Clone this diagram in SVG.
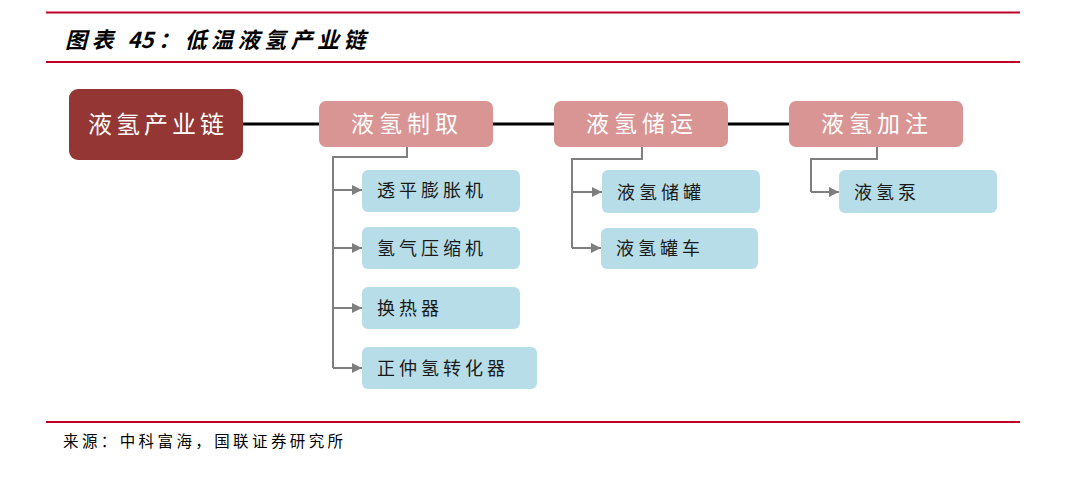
<svg xmlns="http://www.w3.org/2000/svg" width="1080" height="485" viewBox="0 0 1080 485">
<defs>
<marker id="arr" viewBox="0 0 10 10" refX="10" refY="5" markerWidth="5" markerHeight="5" markerUnits="strokeWidth" orient="auto">
<path d="M0,0 L10,5 L0,10 z" fill="#7f7f7f"/>
</marker>
<style>
.rule{stroke:#c00026;stroke-width:2;}
.main{fill:#943634;}
.l1{fill:#d99594;}
.l2{fill:#b7dde8;}
.cjk{font-family:"Noto Sans CJK SC","Noto Sans CJK JP",sans-serif;}
.tmain{font-size:24px;fill:#ffffff;letter-spacing:4px;}
.tl1{font-size:23px;fill:#ffffff;letter-spacing:5px;}
.tl2{font-size:18px;fill:#1a1a1a;letter-spacing:4px;}
.conn{fill:none;stroke:#7f7f7f;stroke-width:2;}
</style>
</defs>
<rect width="1080" height="485" fill="#ffffff"/>
<line class="rule" x1="46" y1="12.5" x2="1020" y2="12.5"/>
<line class="rule" x1="46" y1="62" x2="1020" y2="62"/>
<line class="rule" x1="46" y1="422" x2="1020" y2="422"/>
<text class="cjk" x="65" y="48" font-size="22" font-weight="bold" font-style="italic" fill="#000" letter-spacing="4.5">图表 <tspan letter-spacing="0">4</tspan>5：低温液氢产业链</text>
<text class="cjk" x="63" y="447" font-size="15.5" fill="#000" letter-spacing="3.4">来源：中科富海，国联证券研究所</text>

<g id="connectors">
<line x1="243" y1="124" x2="789" y2="124" stroke="#000" stroke-width="3"/>
<path class="conn" d="M407,147 V157 H333 V368"/>
<line class="conn" x1="333" y1="190" x2="362" y2="190" marker-end="url(#arr)"/>
<line class="conn" x1="333" y1="248" x2="362" y2="248" marker-end="url(#arr)"/>
<line class="conn" x1="333" y1="308" x2="362" y2="308" marker-end="url(#arr)"/>
<line class="conn" x1="333" y1="368" x2="362" y2="368" marker-end="url(#arr)"/>
<path class="conn" d="M642,147 V159 H572 V248"/>
<line class="conn" x1="572" y1="192" x2="602" y2="192" marker-end="url(#arr)"/>
<line class="conn" x1="572" y1="248" x2="601" y2="248" marker-end="url(#arr)"/>
<path class="conn" d="M877,147 V159 H811 V192"/>
<line class="conn" x1="811" y1="192" x2="839" y2="192" marker-end="url(#arr)"/>
</g>

<g id="n-main"><rect class="main" x="69" y="89" width="174" height="71" rx="9"/><text class="cjk tmain" x="88" y="133">液氢产业链</text></g>
<g id="n-zhiqu"><rect class="l1" x="319" y="101" width="174" height="46" rx="7"/><text class="cjk tl1" x="351" y="132">液氢制取</text></g>
<g id="n-chuyun"><rect class="l1" x="554" y="101" width="174" height="46" rx="7"/><text class="cjk tl1" x="586" y="132">液氢储运</text></g>
<g id="n-jiazhu"><rect class="l1" x="789" y="101" width="174" height="46" rx="7"/><text class="cjk tl1" x="821" y="132">液氢加注</text></g>

<g id="n-turbo"><rect class="l2" x="362" y="170" width="158" height="42" rx="6"/><text class="cjk tl2" x="377" y="197">透平膨胀机</text></g>
<g id="n-comp"><rect class="l2" x="362" y="227" width="158" height="42" rx="6"/><text class="cjk tl2" x="377" y="255">氢气压缩机</text></g>
<g id="n-hx"><rect class="l2" x="362" y="287" width="158" height="42" rx="6"/><text class="cjk tl2" x="377" y="315">换热器</text></g>
<g id="n-conv"><rect class="l2" x="362" y="347" width="175" height="42" rx="6"/><text class="cjk tl2" x="377" y="375">正仲氢转化器</text></g>
<g id="n-tank"><rect class="l2" x="602" y="170" width="158" height="43" rx="6"/><text class="cjk tl2" x="617" y="199">液氢储罐</text></g>
<g id="n-truck"><rect class="l2" x="601" y="228" width="157" height="41" rx="6"/><text class="cjk tl2" x="616" y="255">液氢罐车</text></g>
<g id="n-pump"><rect class="l2" x="839" y="170" width="158" height="43" rx="6"/><text class="cjk tl2" x="854" y="199">液氢泵</text></g>
</svg>
